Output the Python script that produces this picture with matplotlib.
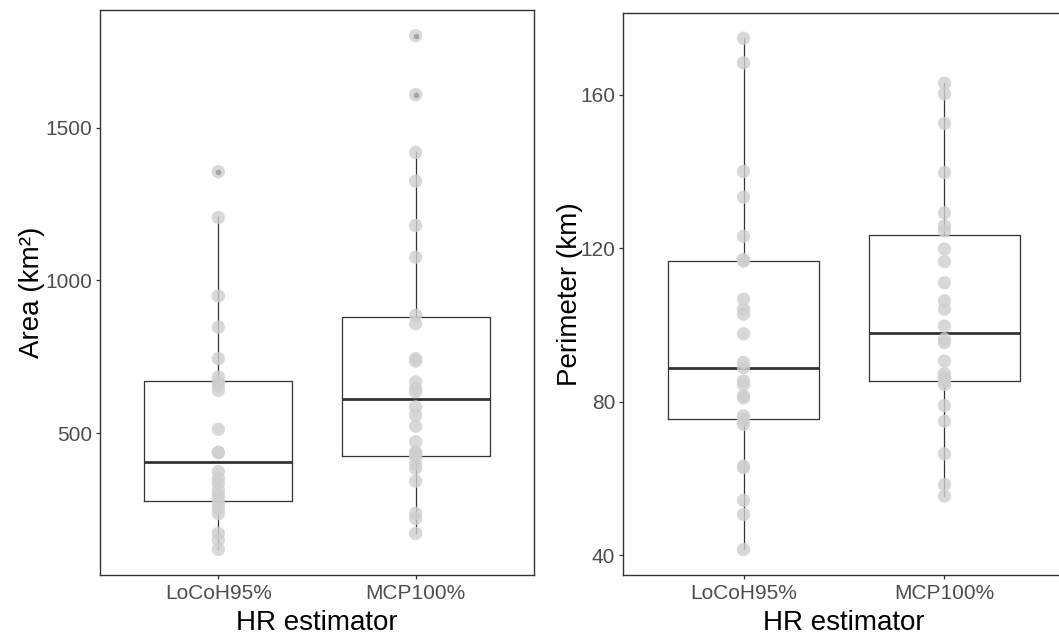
import matplotlib
matplotlib.use("Agg")
import matplotlib.pyplot as plt
import numpy as np

plt.rcParams['font.family'] = ['Liberation Sans', 'DejaVu Sans']

categories = ["LoCoH95%", "MCP100%"]
xlabel = "HR estimator"

# Area (km²)
area_locoh = [1356, 1206, 949, 847, 744, 684, 668, 655, 640, 513, 438, 436,
              374, 352, 335, 314, 297, 283, 268, 254, 237, 172, 150, 120]
area_mcp = [1801, 1608, 1419, 1325, 1180, 1076, 886, 858, 744, 736, 668, 646,
            636, 586, 559, 523, 472, 439, 433, 423, 401, 385, 343, 238, 221, 172]
area_ticks = [500, 1000, 1500]

# Perimeter (km)
per_locoh = [174.7, 168.3, 140.0, 133.3, 123.1, 117.1, 116.6, 106.7, 104.1,
             102.8, 97.7, 90.2, 88.9, 85.4, 84.4, 81.5, 81.0, 76.3, 75.4, 74.1,
             63.2, 62.8, 54.3, 50.6, 41.5]
per_mcp = [163.0, 160.2, 152.5, 139.7, 129.2, 125.8, 124.5, 119.8, 116.5, 111.0,
           106.3, 104.1, 99.7, 96.3, 95.4, 90.6, 87.3, 86.3, 86.0, 85.2, 84.5,
           79.0, 74.9, 66.4, 58.4, 55.4]
per_ticks = [40, 80, 120, 160]

W, H = 1059, 641
fig = plt.figure(figsize=(W / 100, H / 100), dpi=100)
ax1 = fig.add_axes([100 / W, (H - 575) / H, 434 / W, 565 / H])
ax2 = fig.add_axes([623 / W, (H - 575) / H, 442 / W, 562.3 / H])

LINE = '#333333'


def draw(ax, groups, ylabel, yticks, ylab_x):
    ax.boxplot(groups, positions=[1, 2], widths=0.75, whis=1.5, showcaps=False,
               medianprops=dict(color=LINE, lw=2.0),
               boxprops=dict(color=LINE, lw=0.9),
               whiskerprops=dict(color=LINE, lw=0.9),
               flierprops=dict(marker='o', markerfacecolor='black',
                               markeredgecolor='none', markersize=4),
               zorder=2)
    for i, g in enumerate(groups):
        ax.scatter(np.full(len(g), i + 1), g, s=92, c='#CFCFCF', alpha=0.8,
                   edgecolors='none', zorder=3)
    allv = np.concatenate([np.asarray(g, float) for g in groups])
    lo, hi = allv.min(), allv.max()
    pad = 0.05 * (hi - lo)
    ax.set_ylim(lo - pad, hi + pad)
    ax.set_xlim(0.4, 2.6)
    ax.set_xticks([1, 2])
    ax.set_xticklabels(categories)
    ax.set_yticks(yticks)
    ax.set_yticklabels([str(t) for t in yticks])
    ax.tick_params(length=3, width=0.9, color=LINE, labelcolor='#4D4D4D',
                   labelsize=15, pad=2.5)
    ax.tick_params(axis='x', pad=3.5)
    for s in ax.spines.values():
        s.set_color(LINE)
        s.set_linewidth(1.0)
    ax.set_xlabel(xlabel, fontsize=20, color='black')
    ax.set_ylabel(ylabel, fontsize=20, color='black')
    ax.xaxis.set_label_coords(0.5, -0.062)
    ax.yaxis.set_label_coords(ylab_x, 0.5)


draw(ax1, [area_locoh, area_mcp], "Area (km²)", area_ticks, -0.126)
draw(ax2, [per_locoh, per_mcp], "Perimeter (km)", per_ticks, -0.09)

fig.savefig("out.png", dpi=100)
